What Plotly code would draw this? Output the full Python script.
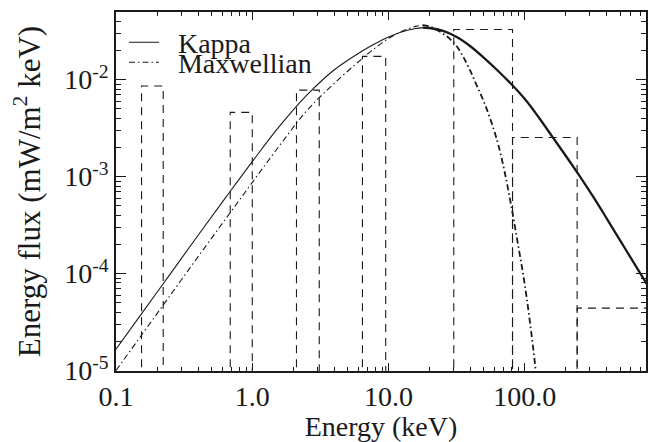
import plotly.graph_objects as go

# Model spectra on a log grid: log10(energy / keV) and log10(flux / mW m^-2 keV^-1)
kappa_log_energy = [-1.0, -0.8, -0.6, -0.4, -0.2, 0.0, 0.2, 0.4, 0.6, 0.8, 0.9, 1.0, 1.1,
                    1.2, 1.25, 1.3, 1.4, 1.5, 1.6, 1.7, 1.8, 1.9, 2.0, 2.1, 2.2, 2.3,
                    2.4, 2.5, 2.6, 2.7, 2.8, 2.9]
kappa_log_flux = [-4.78, -4.39, -4.00, -3.61, -3.225, -2.845, -2.48, -2.16, -1.90, -1.71,
                  -1.63, -1.56, -1.505, -1.472, -1.463, -1.467, -1.497, -1.56, -1.655,
                  -1.775, -1.905, -2.045, -2.20, -2.385, -2.585, -2.785, -2.99, -3.205,
                  -3.43, -3.66, -3.89, -4.12]

maxw_log_energy = [-1.0, -0.8, -0.6, -0.4, -0.2, 0.0, 0.2, 0.4, 0.6, 0.8, 0.9, 1.0, 1.1,
                   1.2, 1.25, 1.3, 1.35, 1.4, 1.45, 1.5, 1.55, 1.6, 1.65, 1.7, 1.75, 1.8,
                   1.85, 1.9, 1.95, 2.0, 2.05, 2.08, 2.1]
maxw_log_flux = [-5.0, -4.61, -4.22, -3.83, -3.445, -3.06, -2.68, -2.32, -2.04, -1.79,
                 -1.675, -1.575, -1.50, -1.45, -1.437, -1.45, -1.485, -1.525, -1.58,
                 -1.655, -1.77, -1.91, -2.07, -2.23, -2.42, -2.645, -2.94, -3.30, -3.70,
                 -4.12, -4.64, -5.0, -5.25]

# Measured channel fluxes: lower/upper bin edges (keV) and flux
bin_lo = [0.154, 0.689, 2.11, 6.43, 30.1, 81.2, 242]
bin_hi = [0.222, 1.0, 3.10, 9.53, 81.2, 242, 2000]
bin_flux = [8.6e-3, 4.6e-3, 7.8e-3, 1.74e-2, 3.29e-2, 2.53e-3, 4.4e-5]

x_tickvals = [0.1, 1.0, 10.0, 100.0]
x_ticktext = ["0.1", "1.0", "10.0", "100.0"]
y_tickvals = [1e-5, 1e-4, 1e-3, 1e-2]
y_ticktext = ["10<sup>-5</sup>", "10<sup>-4</sup>", "10<sup>-3</sup>", "10<sup>-2</sup>"]

FONT = "Liberation Serif, Times New Roman, serif"
INK = "#1a1a1a"
FLOOR = 1e-8  # below the axis, so bin edges run off the bottom

kappa_e = [10 ** v for v in kappa_log_energy]
kappa_f = [10 ** v for v in kappa_log_flux]
maxw_e = [10 ** v for v in maxw_log_energy]
maxw_f = [10 ** v for v in maxw_log_flux]

fig = go.Figure()

# dashed channel boxes
bx, by = [], []
for lo, hi, f in zip(bin_lo, bin_hi, bin_flux):
    bx += [lo, lo, hi, hi, None]
    by += [FLOOR, f, f, FLOOR, None]
fig.add_trace(go.Scatter(x=bx, y=by, mode="lines", showlegend=False,
                         line=dict(color=INK, width=1.1, dash="8px,6px")))

# each model: thin up to its peak, heavier beyond it
k_split = kappa_f.index(max(kappa_f))
m_split = maxw_f.index(max(maxw_f))
DASHDOT = "6px,3px,1.5px,3px"

fig.add_trace(go.Scatter(x=kappa_e[:k_split + 1], y=kappa_f[:k_split + 1],
                         mode="lines", name="\u00a0\u00a0Kappa", legend="legend",
                         line=dict(color=INK, width=1.1, shape="spline", smoothing=1)))
fig.add_trace(go.Scatter(x=kappa_e[k_split:], y=kappa_f[k_split:],
                         mode="lines", showlegend=False,
                         line=dict(color=INK, width=2.3, shape="spline", smoothing=1)))
fig.add_trace(go.Scatter(x=maxw_e[:m_split + 1], y=maxw_f[:m_split + 1],
                         mode="lines", name="\u00a0\u00a0Maxwellian", legend="legend2",
                         line=dict(color=INK, width=1.1, shape="spline", smoothing=1,
                                   dash=DASHDOT)))
fig.add_trace(go.Scatter(x=maxw_e[m_split:], y=maxw_f[m_split:],
                         mode="lines", showlegend=False,
                         line=dict(color=INK, width=1.8, shape="spline", smoothing=1,
                                   dash=DASHDOT)))

axis_common = dict(
    type="log", showgrid=False, zeroline=False, showline=True, linecolor=INK,
    linewidth=1.5, mirror="allticks", ticks="inside", tickcolor=INK, tickwidth=1,
    tickfont=dict(family=FONT, size=28, color=INK),
)

fig.update_layout(
    width=650, height=442,
    margin=dict(l=116, r=2, t=12, b=71),
    paper_bgcolor="white", plot_bgcolor="white",
    font=dict(family=FONT, size=28, color=INK),
    xaxis=dict(axis_common, range=[-1, 2.889], tickmode="array",
               tickvals=x_tickvals, ticktext=x_ticktext, ticklen=8,
               minor=dict(ticks="inside", ticklen=4, dtick="D1", tickcolor=INK, showgrid=False),
               title=dict(text="Energy (keV)", font=dict(family=FONT, size=28, color=INK),
                          standoff=4)),
    yaxis=dict(axis_common, range=[-5.005, -1.302], tickmode="array",
               tickvals=y_tickvals, ticktext=y_ticktext, ticklen=10,
               minor=dict(ticks="inside", ticklen=5, dtick="D1", tickcolor=INK, showgrid=False),
               title=dict(text="Energy flux (mW/m<sup>2</sup> keV)",
                          font=dict(family=FONT, size=31, color=INK), standoff=14)),
    legend=dict(x=0.015, y=0.9148, xanchor="left", yanchor="middle",
                bgcolor="rgba(0,0,0,0)", borderwidth=0,
                font=dict(family=FONT, size=28, color=INK)),
    legend2=dict(x=0.015, y=0.859, xanchor="left", yanchor="middle",
                 bgcolor="rgba(0,0,0,0)", borderwidth=0,
                 font=dict(family=FONT, size=28, color=INK)),
)

fig.write_html("out.html")
